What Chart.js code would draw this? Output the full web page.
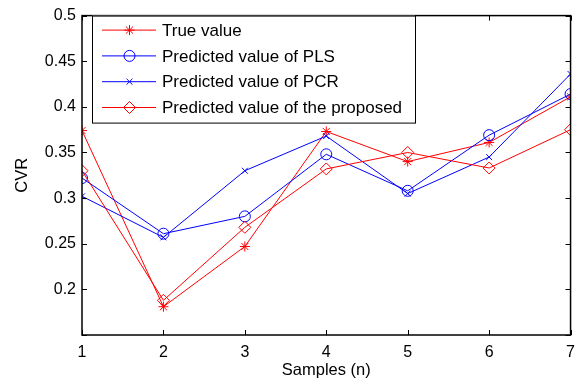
<!DOCTYPE html>
<html>
<head>
<meta charset="utf-8">
<script src="https://cdn.jsdelivr.net/npm/chart.js@4/dist/chart.umd.min.js"></script>
<style>
  html, body { margin: 0; padding: 0; background: #fff; }
  #wrap { width: 583px; height: 383px; }
</style>
</head>
<body>
<div id="wrap"><canvas id="chart" width="583" height="383"></canvas></div>
<script>
const samples = [1, 2, 3, 4, 5, 6, 7];
const trueValue = [0.374, 0.181, 0.247, 0.373, 0.340, 0.361, 0.411];
const plsValue = [0.322, 0.261, 0.280, 0.348, 0.308, 0.369, 0.414];
const pcrValue = [0.302, 0.257, 0.330, 0.368, 0.305, 0.345, 0.436];
const proposedValue = [0.330, 0.188, 0.268, 0.332, 0.350, 0.333, 0.375];
const yTicks = [0.15, 0.2, 0.25, 0.3, 0.35, 0.4, 0.45, 0.5];

const RED = '#ff0000';
const BLUE = '#0000ff';
const FONT = 'Liberation Sans, Arial, sans-serif';

const toPoints = vals => samples.map((x, i) => ({ x, y: vals[i] }));

function series(label, vals, color, style, radius, order) {
  return {
    label,
    data: toPoints(vals),
    borderColor: color,
    backgroundColor: 'rgba(0,0,0,0)',
    borderWidth: 1,
    pointStyle: style,
    pointRadius: radius,
    pointBorderColor: color,
    pointBackgroundColor: 'rgba(0,0,0,0)',
    pointBorderWidth: 1,
    tension: 0,
    order
  };
}

// little marker drawer for the legend swatches
function marker(ctx, style, r, x, y) {
  ctx.beginPath();
  if (style === 'circle') {
    ctx.arc(x, y, r, 0, Math.PI * 2);
  } else if (style === 'rectRot') {
    ctx.moveTo(x, y - r); ctx.lineTo(x + r, y); ctx.lineTo(x, y + r); ctx.lineTo(x - r, y); ctx.closePath();
  } else if (style === 'crossRot') {
    const d = r * Math.SQRT1_2;
    ctx.moveTo(x - d, y - d); ctx.lineTo(x + d, y + d);
    ctx.moveTo(x - d, y + d); ctx.lineTo(x + d, y - d);
  } else if (style === 'star') {
    const d = r * Math.SQRT1_2;
    ctx.moveTo(x - r, y); ctx.lineTo(x + r, y);
    ctx.moveTo(x, y - r); ctx.lineTo(x, y + r);
    ctx.moveTo(x - d, y - d); ctx.lineTo(x + d, y + d);
    ctx.moveTo(x - d, y + d); ctx.lineTo(x + d, y - d);
  }
  ctx.stroke();
}

const boxPlugin = {
  id: 'matlabBox',
  afterDatasetsDraw(chart) {
    const { ctx, chartArea: a, scales } = chart;
    ctx.save();
    // inward ticks on all four sides
    ctx.strokeStyle = '#000';
    ctx.lineWidth = 1;
    const tl = 5;
    ctx.beginPath();
    scales.y.ticks.forEach(t => {
      const py = Math.round(scales.y.getPixelForValue(t.value)) + 0.5;
      ctx.moveTo(a.left, py); ctx.lineTo(a.left + tl, py);
      ctx.moveTo(a.right, py); ctx.lineTo(a.right - tl, py);
    });
    scales.x.ticks.forEach(t => {
      const px = Math.round(scales.x.getPixelForValue(t.value)) + 0.5;
      ctx.moveTo(px, a.bottom); ctx.lineTo(px, a.bottom - tl);
      ctx.moveTo(px, a.top); ctx.lineTo(px, a.top + tl);
    });
    ctx.stroke();
    ctx.lineWidth = 1.5;
    ctx.strokeRect(a.left, a.top, a.right - a.left, a.bottom - a.top);

    // legend box in the upper left corner
    const lx = 92, ly = a.top, lw = 323, lh = 107;
    ctx.fillStyle = '#fff';
    ctx.fillRect(lx, ly, lw, lh);
    ctx.lineWidth = 1;
    ctx.strokeStyle = '#000';
    ctx.strokeRect(lx + 0.5, ly + 0.5, lw, lh);
    ctx.font = '17px ' + FONT;
    ctx.textBaseline = 'middle';
    chart.data.datasets.forEach((ds, i) => {
      const cy = ly + 14.5 + i * 25.8;
      ctx.strokeStyle = ds.borderColor;
      ctx.lineWidth = 1;
      ctx.beginPath();
      ctx.moveTo(102, cy); ctx.lineTo(156, cy);
      ctx.stroke();
      marker(ctx, ds.pointStyle, ds.pointRadius, 129.5, cy);
      ctx.fillStyle = '#000';
      ctx.fillText(ds.label, 162, cy + 1);
    });
    ctx.restore();
  }
};

new Chart(document.getElementById('chart'), {
  type: 'line',
  data: {
    datasets: [
      series('True value', trueValue, RED, 'star', 5, 3),
      series('Predicted value of PLS', plsValue, BLUE, 'circle', 5.5, 2),
      series('Predicted value of PCR', pcrValue, BLUE, 'crossRot', 4.2, 1),
      series('Predicted value of the proposed', proposedValue, RED, 'rectRot', 6, 0)
    ]
  },
  options: {
    responsive: false,
    animation: false,
    layout: { padding: { left: 0, top: 15.5, right: 11, bottom: 0 } },
    plugins: { legend: { display: false }, tooltip: { enabled: false } },
    scales: {
      x: {
        type: 'linear',
        min: 1,
        max: 7,
        grid: { display: false, drawTicks: false },
        border: { display: false },
        ticks: { stepSize: 1, padding: 8, color: '#000', font: { family: FONT, size: 16 } },
        title: { display: true, text: 'Samples (n)', color: '#000', font: { family: FONT, size: 16.5 }, padding: { top: 0, bottom: 3 } },
        afterFit(scale) { scale.height = 48; }
      },
      y: {
        min: 0.15,
        max: 0.5,
        grid: { display: false, drawTicks: false },
        border: { display: false },
        afterBuildTicks(scale) { scale.ticks = yTicks.map(v => ({ value: v })); },
        ticks: {
          padding: 6,
          color: '#000',
          font: { family: FONT, size: 16 },
          callback: v => (v < 0.16 ? '' : String(+v.toFixed(2)))
        },
        title: { display: true, text: 'CVR', color: '#000', font: { family: FONT, size: 16.5 }, padding: { top: 13, bottom: 0 } },
        afterFit(scale) { scale.width = 82; }
      }
    }
  },
  plugins: [boxPlugin]
});
</script>
</body>
</html>
